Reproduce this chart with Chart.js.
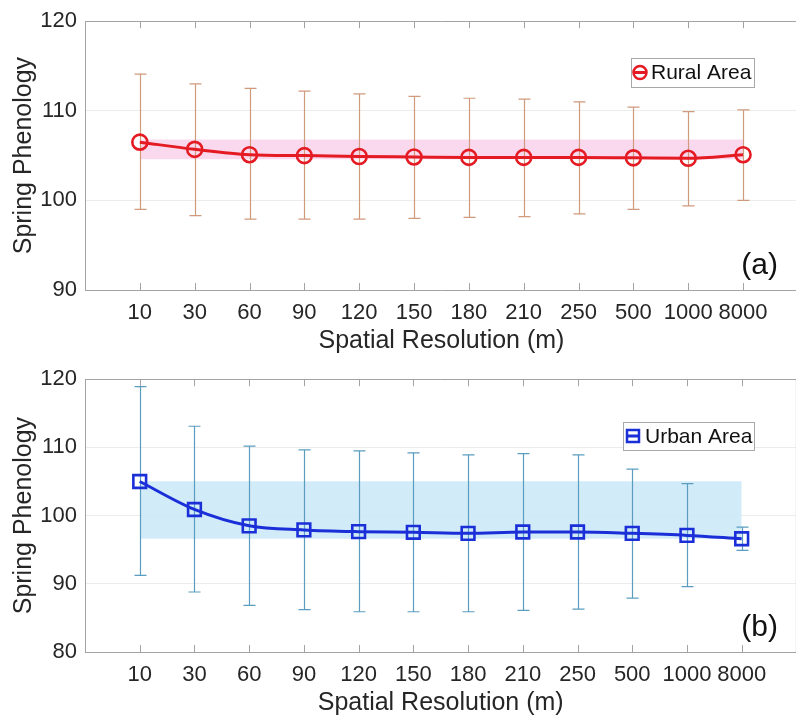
<!DOCTYPE html>
<html>
<head>
<meta charset="utf-8">
<script src="https://cdn.jsdelivr.net/npm/chart.js@4.4.1/dist/chart.umd.min.js"></script>
<style>
  html, body { margin: 0; padding: 0; background: #fff; overflow: hidden; }
  #wrap { width: 796px; height: 720px; overflow: hidden; }
  canvas { display: block; }
</style>
</head>
<body>
<div id="wrap">
  <canvas id="ruralChart" width="808" height="358"></canvas>
  <canvas id="urbanChart" width="808" height="362"></canvas>
</div>
<script>
// x categories: spatial resolution in metres
var resolutions = ["10", "30", "60", "90", "120", "150", "180", "210", "250", "500", "1000", "8000"];

// (a) rural area
var ruralMean  = [106.5, 105.7, 105.1, 105.0, 104.9, 104.85, 104.8, 104.8, 104.8, 104.75, 104.7, 105.1];
var ruralUpper = [114.1, 113.0, 112.5, 112.2, 111.9, 111.6, 111.4, 111.3, 111.0, 110.4, 109.9, 110.1];
var ruralLower = [99.0, 98.3, 97.9, 97.9, 97.9, 98.0, 98.1, 98.2, 98.5, 99.0, 99.4, 100.0];
var ruralBand  = [104.6, 106.8];
var ruralTicks = [90, 100, 110, 120];

// (b) urban area
var urbanMean  = [105.0, 100.9, 98.5, 97.9, 97.65, 97.55, 97.4, 97.6, 97.6, 97.4, 97.1, 96.6];
var urbanUpper = [118.9, 113.1, 110.2, 109.65, 109.5, 109.2, 108.9, 109.1, 108.9, 106.8, 104.7, 98.3];
var urbanLower = [91.25, 88.8, 86.85, 86.2, 85.9, 85.9, 85.9, 86.1, 86.3, 87.9, 89.6, 94.9];
var urbanBand  = [96.6, 105.05];
var urbanTicks = [80, 90, 100, 110, 120];

var FONT = "Arial, 'Liberation Sans', Helvetica, sans-serif";
var AXIS_GRAY = "#a3a3a3";
var TEXT = "#262626";

function toPoints(values) {
  var pts = [];
  for (var i = 0; i < values.length; i++) {
    pts.push({ x: i, y: values[i] });
  }
  return pts;
}

// error bars drawn just before the main line (dataset 0) so they sit underneath it
var errorBarPlugin = {
  id: "errorBars",
  beforeDatasetDraw: function (chart, args, opts) {
    if (args.index !== 0) return;
    var ctx = chart.ctx;
    var xs = chart.scales.x;
    var ys = chart.scales.y;
    ctx.save();
    ctx.strokeStyle = opts.color;
    ctx.lineWidth = 1.2;
    for (var i = 0; i < opts.upper.length; i++) {
      var px = Math.round(xs.getPixelForValue(i)) + 0.5;
      var top = ys.getPixelForValue(opts.upper[i]);
      var bot = ys.getPixelForValue(opts.lower[i]);
      ctx.beginPath();
      ctx.moveTo(px, top);
      ctx.lineTo(px, bot);
      ctx.moveTo(px - 6, top);
      ctx.lineTo(px + 6, top);
      ctx.moveTo(px - 6, bot);
      ctx.lineTo(px + 6, bot);
      ctx.stroke();
    }
    ctx.restore();
  },
};

// box frame, inward ticks, legend and panel letter
var decorPlugin = {
  id: "decor",
  afterDraw: function (chart, args, opts) {
    var ctx = chart.ctx;
    var area = chart.chartArea;
    var xs = chart.scales.x;
    ctx.save();
    ctx.strokeStyle = AXIS_GRAY;
    ctx.lineWidth = 1;
    ctx.beginPath();
    ctx.moveTo(area.left, Math.round(area.top) + 0.5);
    ctx.lineTo(area.right, Math.round(area.top) + 0.5);
    ctx.lineTo(area.right, area.bottom);
    ctx.stroke();

    // inward x ticks on top and bottom edges
    ctx.beginPath();
    for (var i = 0; i < resolutions.length; i++) {
      var px = Math.round(xs.getPixelForValue(i)) + 0.5;
      ctx.moveTo(px, area.bottom);
      ctx.lineTo(px, area.bottom - 7);
      ctx.moveTo(px, area.top);
      ctx.lineTo(px, area.top + 7);
    }
    ctx.stroke();

    // legend
    var lg = opts.legend;
    ctx.fillStyle = "#ffffff";
    ctx.fillRect(lg.x, lg.y, lg.w, lg.h);
    ctx.strokeStyle = "#a8a8a8";
    ctx.strokeRect(lg.x + 0.5, lg.y + 0.5, lg.w, lg.h);
    var cx = lg.x + lg.markerDx;
    var cy = lg.y + lg.h / 2;
    ctx.strokeStyle = opts.color;
    ctx.lineWidth = 3;
    ctx.beginPath();
    ctx.moveTo(cx - 7, cy);
    ctx.lineTo(cx + 7, cy);
    ctx.stroke();
    ctx.lineWidth = 2.5;
    ctx.beginPath();
    if (opts.marker === "circle") {
      ctx.arc(cx, cy, 6.5, 0, Math.PI * 2);
    } else {
      ctx.rect(cx - 6, cy - 6, 12, 12);
    }
    ctx.stroke();
    ctx.fillStyle = "#111111";
    ctx.font = "21px " + FONT;
    ctx.textAlign = "left";
    ctx.textBaseline = "middle";
    ctx.fillText(lg.text, lg.x + lg.textDx, cy + 1);

    // panel letter
    ctx.fillStyle = "#111111";
    ctx.font = "30px " + FONT;
    ctx.textAlign = "right";
    ctx.fillText(opts.panel, 778, area.bottom - 24);
    ctx.restore();
  },
};

function makePanel(canvasId, s) {
  var ctx = document.getElementById(canvasId).getContext("2d");
  return new Chart(ctx, {
    type: "line",
    data: {
      datasets: [
        {
          label: s.name,
          data: toPoints(s.mean),
          borderColor: s.color,
          borderWidth: 3,
          backgroundColor: "rgba(0,0,0,0)",
          pointStyle: s.marker,
          pointRadius: s.marker === "circle" ? 7.5 : 9,
          pointBorderWidth: 2.6,
          pointBorderColor: s.color,
          pointBackgroundColor: "rgba(0,0,0,0)",
          cubicInterpolationMode: "monotone",
          tension: 0.4,
          fill: false,
        },
        {
          label: "band-high",
          data: [{ x: 0, y: s.band[1] }, { x: 11, y: s.band[1] }],
          borderWidth: 0,
          pointRadius: 0,
          fill: "+1",
          backgroundColor: s.bandColor,
        },
        {
          label: "band-low",
          data: [{ x: 0, y: s.band[0] }, { x: 11, y: s.band[0] }],
          borderWidth: 0,
          pointRadius: 0,
          fill: false,
        },
      ],
    },
    options: {
      responsive: false,
      animation: false,
      events: [],
      layout: { padding: { top: s.padTop, right: 1, left: 0, bottom: 0 } },
      plugins: {
        legend: { display: false },
        tooltip: { enabled: false },
        errorBars: { upper: s.upper, lower: s.lower, color: s.errColor },
        decor: { legend: s.legend, color: s.color, marker: s.marker, panel: s.panel },
      },
      scales: {
        x: {
          type: "linear",
          min: -1,
          max: 12,
          afterBuildTicks: function (scale) {
            scale.ticks = resolutions.map(function (r, i) { return { value: i }; });
          },
          afterFit: function (scale) { scale.height = 68; },
          grid: { display: false, drawTicks: false },
          border: { color: AXIS_GRAY },
          ticks: {
            padding: 10,
            color: TEXT,
            font: { family: FONT, size: 22 },
            maxRotation: 0,
            autoSkip: false,
            callback: function (v) { return resolutions[v]; },
          },
          title: {
            display: true,
            text: "Spatial Resolution (m)",
            color: TEXT,
            font: { family: FONT, size: 25 },
            padding: { top: 0, bottom: 2 },
          },
        },
        y: {
          min: s.yTicks[0],
          max: s.yTicks[s.yTicks.length - 1],
          afterBuildTicks: function (scale) {
            scale.ticks = s.yTicks.map(function (v) { return { value: v }; });
          },
          afterFit: function (scale) { scale.width = 85; },
          grid: { color: "#ececec", drawTicks: false },
          border: { color: AXIS_GRAY },
          ticks: {
            padding: 8,
            color: TEXT,
            font: { family: FONT, size: 22 },
          },
          title: {
            display: true,
            text: "Spring Phenology",
            color: TEXT,
            font: { family: FONT, size: 25 },
            padding: { top: 9, bottom: 0 },
          },
        },
      },
    },
    plugins: [errorBarPlugin, decorPlugin],
  });
}

makePanel("ruralChart", {
  name: "Rural Area",
  mean: ruralMean,
  upper: ruralUpper,
  lower: ruralLower,
  band: ruralBand,
  yTicks: ruralTicks,
  color: "#e51b24",
  errColor: "#d09a7c",
  bandColor: "rgba(249, 210, 236, 0.85)",
  marker: "circle",
  panel: "(a)",
  padTop: 17,
  legend: { x: 631, y: 58, w: 123, h: 29, markerDx: 9, textDx: 20, text: "Rural Area" },
});

makePanel("urbanChart", {
  name: "Urban Area",
  mean: urbanMean,
  upper: urbanUpper,
  lower: urbanLower,
  band: urbanBand,
  yTicks: urbanTicks,
  color: "#1b2fd8",
  errColor: "#5b9dc0",
  bandColor: "rgba(205, 233, 248, 0.9)",
  marker: "rect",
  panel: "(b)",
  padTop: 21,
  legend: { x: 623, y: 64, w: 131, h: 28, markerDx: 10, textDx: 22, text: "Urban Area" },
});
</script>
</body>
</html>
